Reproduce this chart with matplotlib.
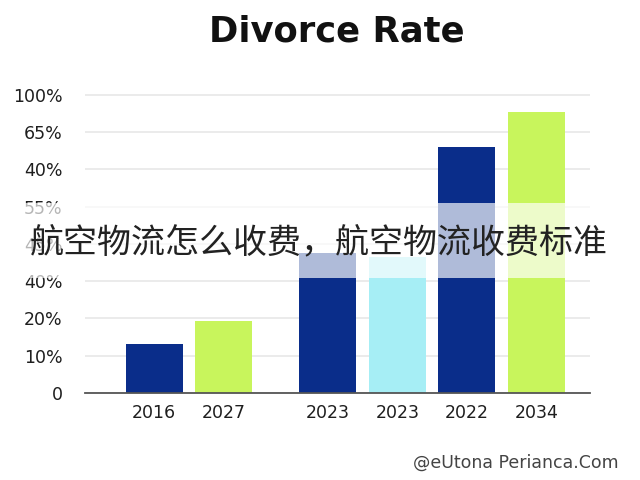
import matplotlib
matplotlib.use("Agg")
import matplotlib.pyplot as plt
from matplotlib.patches import Rectangle
import numpy as np

# ---- data ----
categories = ["2016", "2027", "2023", "2023", "2022", "2034"]
values = [1.32, 1.93, 3.76, 3.66, 6.61, 7.53]          # in gridline units
bar_colors = ["#0a2d8a", "#c8f55c", "#0a2d8a", "#a6eef5", "#0a2d8a", "#c8f55c"]
group_of_bar = [0, 0, 1, 1, 1, 1]
ytick_labels = ["0", "10%", "20%", "40%", "45%", "55%", "40%", "65%", "100%"]
title = "Divorce Rate"
overlay_text = "航空物流怎么收费，航空物流收费标准"
credit = "@eUtona Perianca.Com"

fig = plt.figure(figsize=(6.4, 4.8), dpi=100)
fig.patch.set_facecolor("white")
ax = fig.add_axes([85/640, 87/480, 505/640, 305.5/480])

x = np.arange(len(categories)) + 0.5 * np.array(group_of_bar)
ax.bar(x, values, width=0.82, color=bar_colors, zorder=3)

ax.set_xlim(-0.993, 6.27)
ax.set_ylim(0, 8.2)
ax.set_yticks(range(len(ytick_labels)))
ax.set_yticklabels(ytick_labels)
ax.set_xticks(x)
ax.set_xticklabels(categories)
ax.grid(axis="y", color="#e8e8e8", linewidth=1.2, zorder=0)
for s in ["top", "right", "left"]:
    ax.spines[s].set_visible(False)
ax.spines["bottom"].set_color("#555555")
ax.spines["bottom"].set_linewidth(1.3)
ax.spines["bottom"].set_zorder(4)
ax.tick_params(axis="both", length=0, labelsize=12.5, labelcolor="#1e1e1e")
ax.tick_params(axis="y", pad=16)
ax.tick_params(axis="x", pad=8)
for lab in ax.get_xticklabels() + ax.get_yticklabels():
    lab.set_family("DejaVu Sans")

fig.text(337/640, 1 - 32/480, title, ha="center", va="center",
         fontsize=25.5, fontweight="bold", family="DejaVu Sans", color="#111111")
fig.text(619/640, 1 - 463/480, credit, ha="right", va="center",
         fontsize=12.5, family="DejaVu Sans", color="#444444")

# translucent overlay band with caption
fig.patches.append(Rectangle((0, 1 - 278/480), 1, 75/480, transform=fig.transFigure,
                             facecolor="white", alpha=0.68, edgecolor="none", zorder=10))
fig.text(319/640, 1 - 243/480, overlay_text, ha="center", va="center",
         fontsize=24.5, family=["Noto Sans CJK SC", "DejaVu Sans"], color="#222222",
         zorder=11)

fig.savefig("out.png", dpi=100)
